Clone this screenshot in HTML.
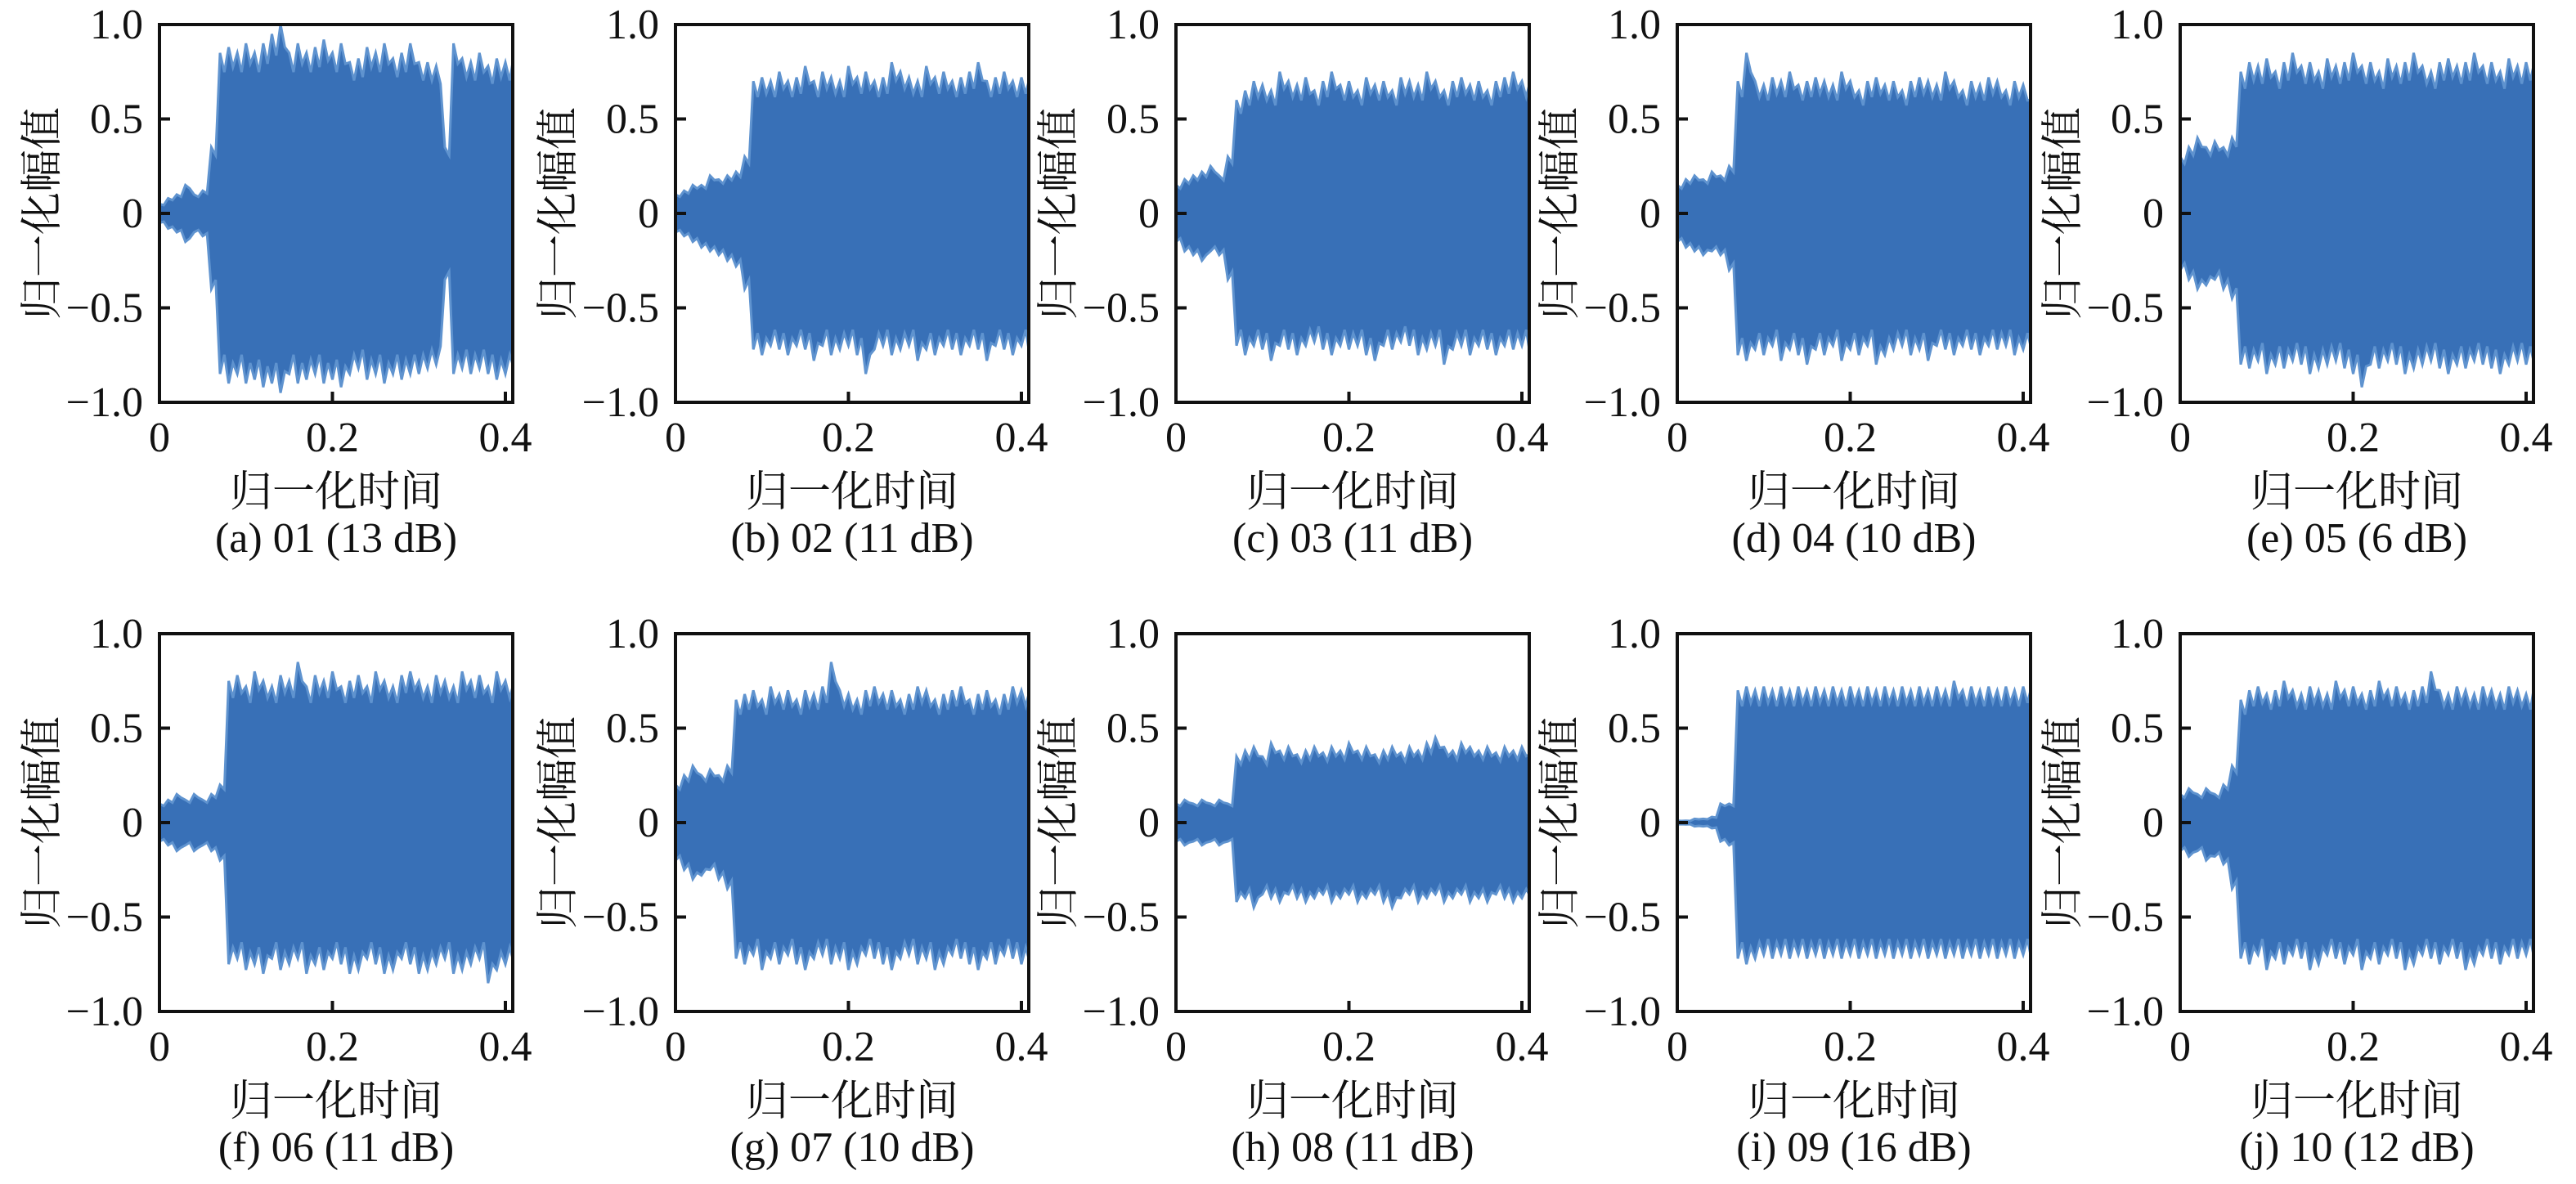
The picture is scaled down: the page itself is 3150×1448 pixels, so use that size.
<!DOCTYPE html>
<html><head><meta charset="utf-8"><style>
html,body{margin:0;padding:0;background:#fff}
svg text{font-family:"Liberation Serif","Noto Serif CJK SC",serif;fill:#111}
.cn{font-family:"Liberation Serif","Noto Serif CJK SC",serif}
</style></head><body>
<svg id="fig" xmlns="http://www.w3.org/2000/svg" width="3150" height="1443" viewBox="0 0 3150 1443"></svg>
<script>
const captions=["(a) 01 (13 dB)","(b) 02 (11 dB)","(c) 03 (11 dB)","(d) 04 (10 dB)","(e) 05 (6 dB)","(f) 06 (11 dB)","(g) 07 (10 dB)","(h) 08 (11 dB)","(i) 09 (16 dB)","(j) 10 (12 dB)"];
const xTicks=[0,0.2,0.4];
const xTickLabels=["0","0.2","0.4"];
const yTicks=[1,0.5,0,-0.5,-1];
const yTickLabels=["1.0","0.5","0","\u22120.5","\u22121.0"];
const tStep=0.01;
const upperA=[0.05,0.08,0.1,0.15,0.1,0.12,0.35,0.85,0.88,0.85,0.9,0.85,0.9,0.95,1.0,0.85,0.9,0.85,0.88,0.92,0.85,0.9,0.8,0.82,0.88,0.85,0.9,0.82,0.85,0.9,0.8,0.8,0.78,0.35,0.9,0.82,0.8,0.85,0.78,0.82,0.8,0.8];
const lowerA=[-0.05,-0.08,-0.1,-0.15,-0.1,-0.12,-0.4,-0.85,-0.9,-0.85,-0.9,-0.88,-0.92,-0.9,-0.95,-0.85,-0.9,-0.88,-0.85,-0.9,-0.88,-0.92,-0.85,-0.82,-0.88,-0.85,-0.9,-0.85,-0.88,-0.85,-0.85,-0.82,-0.8,-0.35,-0.85,-0.82,-0.85,-0.82,-0.85,-0.88,-0.85,-0.8];
const upperB=[0.1,0.12,0.15,0.15,0.2,0.18,0.2,0.22,0.3,0.7,0.72,0.7,0.75,0.7,0.72,0.78,0.7,0.75,0.72,0.7,0.78,0.72,0.75,0.7,0.72,0.8,0.75,0.72,0.7,0.78,0.72,0.75,0.7,0.72,0.75,0.8,0.7,0.72,0.75,0.7,0.72,0.7];
const lowerB=[-0.1,-0.12,-0.15,-0.18,-0.2,-0.22,-0.25,-0.28,-0.4,-0.72,-0.75,-0.7,-0.72,-0.75,-0.7,-0.72,-0.78,-0.7,-0.75,-0.72,-0.7,-0.75,-0.85,-0.72,-0.7,-0.75,-0.72,-0.7,-0.78,-0.72,-0.75,-0.7,-0.72,-0.75,-0.7,-0.72,-0.78,-0.7,-0.72,-0.75,-0.7,-0.72];
const upperC=[0.15,0.18,0.2,0.22,0.25,0.2,0.3,0.6,0.65,0.7,0.68,0.65,0.75,0.7,0.68,0.72,0.65,0.7,0.75,0.68,0.7,0.65,0.72,0.68,0.7,0.65,0.72,0.7,0.68,0.75,0.7,0.65,0.7,0.72,0.68,0.7,0.65,0.7,0.72,0.75,0.7,0.68];
const lowerC=[-0.15,-0.2,-0.22,-0.25,-0.2,-0.22,-0.35,-0.7,-0.75,-0.7,-0.72,-0.78,-0.7,-0.72,-0.75,-0.7,-0.68,-0.72,-0.75,-0.7,-0.72,-0.7,-0.75,-0.78,-0.7,-0.72,-0.68,-0.7,-0.75,-0.72,-0.7,-0.8,-0.72,-0.7,-0.75,-0.7,-0.72,-0.75,-0.7,-0.72,-0.7,-0.72];
const upperD=[0.15,0.18,0.2,0.18,0.22,0.2,0.25,0.7,0.85,0.7,0.68,0.72,0.7,0.75,0.68,0.7,0.72,0.7,0.68,0.75,0.7,0.65,0.7,0.72,0.68,0.7,0.65,0.7,0.72,0.7,0.68,0.75,0.7,0.65,0.7,0.68,0.72,0.7,0.65,0.7,0.68,0.6];
const lowerD=[-0.15,-0.18,-0.2,-0.22,-0.2,-0.22,-0.3,-0.75,-0.78,-0.72,-0.75,-0.7,-0.78,-0.72,-0.75,-0.8,-0.72,-0.75,-0.7,-0.78,-0.72,-0.75,-0.7,-0.8,-0.75,-0.72,-0.7,-0.75,-0.72,-0.78,-0.7,-0.72,-0.75,-0.7,-0.72,-0.75,-0.7,-0.72,-0.7,-0.75,-0.72,-0.7];
const upperE=[0.3,0.35,0.4,0.35,0.38,0.35,0.4,0.75,0.8,0.78,0.82,0.75,0.8,0.85,0.78,0.8,0.75,0.82,0.78,0.8,0.85,0.78,0.8,0.75,0.82,0.78,0.8,0.85,0.78,0.75,0.8,0.82,0.78,0.8,0.85,0.78,0.8,0.75,0.82,0.78,0.8,0.78];
const lowerE=[-0.3,-0.35,-0.4,-0.38,-0.35,-0.4,-0.45,-0.8,-0.82,-0.78,-0.85,-0.8,-0.82,-0.78,-0.8,-0.85,-0.82,-0.8,-0.78,-0.82,-0.85,-0.92,-0.8,-0.82,-0.78,-0.8,-0.85,-0.82,-0.8,-0.78,-0.82,-0.85,-0.8,-0.82,-0.78,-0.8,-0.82,-0.85,-0.8,-0.78,-0.8,-0.78];
const upperF=[0.1,0.12,0.15,0.12,0.15,0.12,0.15,0.2,0.75,0.78,0.72,0.8,0.75,0.72,0.78,0.75,0.85,0.72,0.78,0.75,0.8,0.72,0.75,0.78,0.72,0.8,0.75,0.72,0.78,0.8,0.75,0.72,0.78,0.75,0.72,0.8,0.75,0.78,0.72,0.8,0.75,0.72];
const lowerF=[-0.1,-0.12,-0.15,-0.12,-0.15,-0.12,-0.15,-0.2,-0.75,-0.72,-0.78,-0.75,-0.8,-0.72,-0.78,-0.75,-0.72,-0.8,-0.75,-0.78,-0.72,-0.75,-0.8,-0.78,-0.72,-0.75,-0.8,-0.78,-0.72,-0.75,-0.8,-0.78,-0.75,-0.72,-0.8,-0.78,-0.75,-0.72,-0.85,-0.78,-0.75,-0.72];
const upperG=[0.2,0.25,0.3,0.25,0.28,0.25,0.3,0.65,0.68,0.7,0.65,0.72,0.68,0.7,0.65,0.7,0.68,0.72,0.85,0.7,0.68,0.65,0.7,0.72,0.68,0.7,0.65,0.68,0.72,0.7,0.65,0.68,0.7,0.72,0.65,0.68,0.7,0.65,0.68,0.72,0.7,0.68];
const lowerG=[-0.2,-0.25,-0.3,-0.28,-0.25,-0.3,-0.35,-0.72,-0.75,-0.7,-0.78,-0.72,-0.75,-0.7,-0.75,-0.78,-0.72,-0.7,-0.75,-0.72,-0.78,-0.75,-0.7,-0.72,-0.75,-0.78,-0.72,-0.7,-0.75,-0.72,-0.78,-0.75,-0.7,-0.72,-0.75,-0.78,-0.72,-0.75,-0.7,-0.72,-0.75,-0.72];
const upperH=[0.1,0.12,0.1,0.12,0.1,0.12,0.1,0.35,0.38,0.4,0.35,0.42,0.38,0.4,0.36,0.38,0.4,0.37,0.4,0.38,0.42,0.38,0.4,0.36,0.38,0.4,0.37,0.4,0.38,0.42,0.45,0.4,0.38,0.42,0.4,0.38,0.4,0.37,0.4,0.38,0.4,0.36];
const lowerH=[-0.1,-0.12,-0.1,-0.12,-0.1,-0.12,-0.1,-0.42,-0.4,-0.45,-0.38,-0.4,-0.42,-0.38,-0.4,-0.42,-0.4,-0.38,-0.42,-0.4,-0.38,-0.42,-0.4,-0.38,-0.42,-0.45,-0.4,-0.38,-0.42,-0.4,-0.38,-0.42,-0.4,-0.38,-0.42,-0.4,-0.42,-0.38,-0.4,-0.42,-0.4,-0.38];
const upperI=[0.01,0.01,0.02,0.02,0.03,0.1,0.1,0.7,0.72,0.7,0.72,0.7,0.72,0.7,0.72,0.7,0.72,0.7,0.72,0.7,0.72,0.7,0.72,0.7,0.72,0.7,0.72,0.7,0.72,0.7,0.72,0.7,0.75,0.7,0.72,0.7,0.72,0.7,0.72,0.7,0.72,0.7];
const lowerI=[-0.01,-0.01,-0.02,-0.02,-0.03,-0.1,-0.12,-0.72,-0.75,-0.72,-0.7,-0.72,-0.7,-0.72,-0.7,-0.72,-0.7,-0.72,-0.7,-0.72,-0.7,-0.72,-0.7,-0.72,-0.7,-0.72,-0.7,-0.72,-0.7,-0.72,-0.7,-0.72,-0.7,-0.72,-0.7,-0.72,-0.7,-0.72,-0.7,-0.72,-0.7,-0.7];
const upperJ=[0.15,0.18,0.15,0.18,0.15,0.2,0.3,0.65,0.7,0.72,0.68,0.7,0.75,0.7,0.68,0.72,0.7,0.68,0.75,0.7,0.72,0.68,0.7,0.75,0.7,0.72,0.68,0.7,0.72,0.8,0.7,0.68,0.72,0.7,0.68,0.72,0.7,0.68,0.72,0.7,0.68,0.7];
const lowerJ=[-0.15,-0.18,-0.15,-0.2,-0.18,-0.22,-0.35,-0.72,-0.75,-0.7,-0.78,-0.72,-0.75,-0.7,-0.72,-0.78,-0.75,-0.7,-0.72,-0.75,-0.7,-0.78,-0.72,-0.75,-0.7,-0.72,-0.78,-0.75,-0.7,-0.72,-0.75,-0.7,-0.72,-0.78,-0.75,-0.7,-0.72,-0.75,-0.7,-0.72,-0.7,-0.7];
const uppers=[upperA,upperB,upperC,upperD,upperE,upperF,upperG,upperH,upperI,upperJ];
const lowers=[lowerA,lowerB,lowerC,lowerD,lowerE,lowerF,lowerG,lowerH,lowerI,lowerJ];

const NS="http://www.w3.org/2000/svg";
const svg=document.getElementById('fig');
function mk(tag,attrs,parent){const e=document.createElementNS(NS,tag);for(const k in attrs)e.setAttribute(k,attrs[k]);(parent||svg).appendChild(e);return e;}
const lefts=[195,826,1438,2051,2666], tops=[30,775], W=432, H=462, XMAX=0.4085;
for(let p=0;p<10;p++){
  const L=lefts[p%5], T=tops[Math.floor(p/5)];
  const g=mk('g',{});
  
  
  const xs=v=>L+v/XMAX*W, ys=v=>T+H/2-v*H/2;
  const up=uppers[p], lo=lowers[p];
  let pts=[];
  for(let i=0;i<up.length;i++){const t=Math.min(i*tStep,XMAX);pts.push(xs(t)+','+ys(up[i]));if(i<up.length-1){pts.push(xs(t+tStep*0.5)+','+ys(up[i]*0.88));}}
  for(let i=lo.length-1;i>=0;i--){const t=Math.min(i*tStep,XMAX);if(i<lo.length-1){pts.push(xs(t+tStep*0.5)+','+ys(lo[i]*0.88));}pts.push(xs(t)+','+ys(lo[i]));}
  const wf=mk('polygon',{points:pts.join(' '),fill:'#3870b7',stroke:'#5f93cf','stroke-width':3,'stroke-linejoin':'miter'},g);
  
  
  const box=mk('rect',{x:L,y:T,width:W,height:H,fill:'none',stroke:'#111','stroke-width':4},g);
  
  
  xTicks.forEach((v,i)=>{
    mk('line',{x1:xs(v),x2:xs(v),y1:T+H,y2:T+H-13,stroke:'#111','stroke-width':4},g);
    const tx=mk('text',{x:xs(v),y:T+H+60,'font-size':52,'text-anchor':'middle'},g);tx.textContent=xTickLabels[i];
    
    
  });
  yTicks.forEach((v,i)=>{
    mk('line',{x1:L,x2:L+13,y1:ys(v),y2:ys(v),stroke:'#111','stroke-width':4},g);
    const ty=mk('text',{x:L-20,y:ys(v)+17,'font-size':52,'text-anchor':'end'},g);ty.textContent=yTickLabels[i];
    
    
  });
  const xl=mk('text',{x:L+W/2,y:T+H+127,'font-size':52,'text-anchor':'middle',class:'cn'},g);xl.textContent='归一化时间';
  
  
  const yl=mk('text',{x:0,y:0,'font-size':52,'text-anchor':'middle',class:'cn',transform:`translate(${L-126},${T+H/2}) rotate(-90)`},g);yl.textContent='归一化幅值';
  
  
  const cp=mk('text',{x:L+W/2,y:T+H+183,'font-size':52,'text-anchor':'middle'},g);cp.textContent=captions[p];
  
  
}
</script>
</body></html>
